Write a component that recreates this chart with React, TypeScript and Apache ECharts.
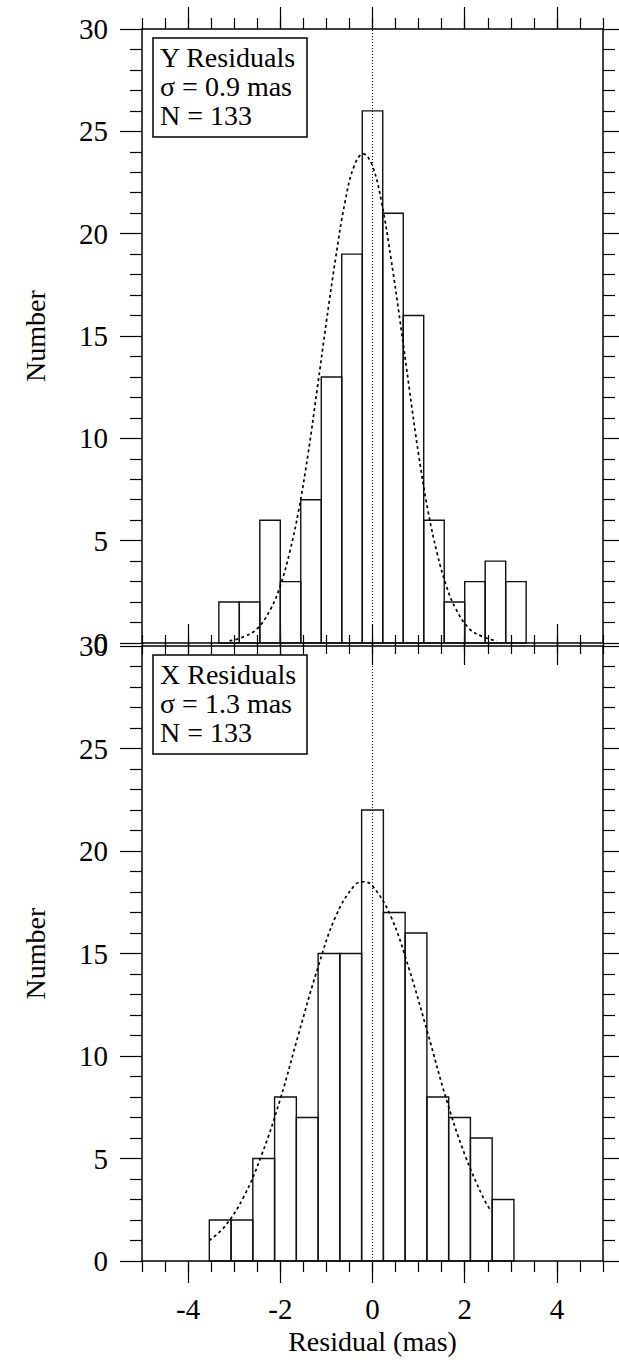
import React, { useEffect, useRef } from "react";
import * as echarts from "echarts";

// ---- Data ----
// Top panel (Y residuals): histogram bin edges and counts
const yBinEdges = [-3.333, -2.889, -2.444, -2.0, -1.556, -1.111, -0.667, -0.222, 0.222, 0.667, 1.111, 1.556, 2.0, 2.444, 2.889, 3.333];
const yCounts = [2, 2, 6, 3, 7, 13, 19, 26, 21, 16, 6, 2, 3, 4, 3];
// Bottom panel (X residuals)
const xBinEdges = [-3.54, -3.068, -2.596, -2.124, -1.652, -1.18, -0.708, -0.236, 0.236, 0.708, 1.18, 1.652, 2.124, 2.596, 3.068];
const xCounts = [2, 2, 5, 8, 7, 15, 15, 22, 17, 16, 8, 7, 6, 3];

// Dotted Gaussian curves
const yFitX = [-3.1, -2.8, -2.5, -2.2, -2.0, -1.8, -1.6, -1.4, -1.2, -1.0, -0.8, -0.6, -0.4, -0.2, 0.0, 0.2, 0.4, 0.6, 0.8, 1.0, 1.2, 1.4, 1.6, 1.8, 2.1, 2.4, 2.7];
const yFitY = [0.1, 0.3, 0.7, 1.7, 2.8, 4.4, 6.5, 9.2, 12.4, 15.7, 18.8, 21.5, 23.3, 23.9, 23.3, 21.5, 18.8, 15.7, 12.4, 9.2, 6.5, 4.4, 2.8, 1.7, 0.7, 0.3, 0.1];
const xFitX = [-3.54, -3.2, -2.8, -2.4, -2.0, -1.6, -1.2, -0.8, -0.4, -0.2, 0.0, 0.4, 0.8, 1.2, 1.6, 2.0, 2.4, 2.58];
const xFitY = [1.0, 1.7, 3.1, 5.2, 7.9, 11.1, 14.2, 16.8, 18.3, 18.5, 18.3, 16.8, 14.2, 11.1, 7.9, 5.2, 3.1, 2.4];

// Axis ticks and labels
const xMajorTicks = [-4, -2, 0, 2, 4];
const xMin = -5;
const xMax = 5;
const xMinorStep = 0.5;
const yMin = 0;
const yMax = 30;
const yStep = 5;
const yMinorSplit = 5;
const zeroLine = 0;

// Texts
const panelTitles = ["Y Residuals", "X Residuals"];
const sigmaLabels = ["σ = 0.9 mas", "σ = 1.3 mas"];
const countLabels = ["N = 133", "N = 133"];
const yAxisName = "Number";
const xAxisName = "Residual (mas)";

const FONT = "'Liberation Serif', 'Times New Roman', serif";

export default function App() {
  const ref = useRef<HTMLDivElement>(null);

  useEffect(() => {
    document.body.style.margin = "0";
    if (!ref.current) return;
    const chart = echarts.init(ref.current, null, { renderer: "svg" });

    const grids = [
      { left: 142, top: 29, width: 461, height: 614 },
      { left: 142, top: 646, width: 461, height: 615 },
    ];

    const lineColor = "#000";
    const xAxes: any[] = [];
    const yAxes: any[] = [];
    const series: any[] = [];
    const graphics: any[] = [];

    const panels = [
      { edges: yBinEdges, counts: yCounts, fx: yFitX, fy: yFitY },
      { edges: xBinEdges, counts: xCounts, fx: xFitX, fy: xFitY },
    ];

    panels.forEach((p, g) => {
      const base = xAxes.length;
      const isBottom = g === 1;
      // bottom minor-tick axis (with labels on lower panel)
      xAxes.push({
        gridIndex: g,
        type: "value",
        position: "bottom",
        min: xMin,
        max: xMax,
        interval: xMinorStep,
        axisLine: { show: true, onZero: false, lineStyle: { color: lineColor, width: 1.5 } },
        axisTick: { show: true, inside: false, length: 11, lineStyle: { color: lineColor, width: 1.2 } },
        axisLabel: {
          show: isBottom,
          customValues: xMajorTicks,
          margin: 33,
          fontSize: 29,
          fontFamily: FONT,
          color: "#000",
          formatter: (v: number) => String(v),
        },
        splitLine: { show: false },
        name: isBottom ? xAxisName : "",
        nameLocation: "middle",
        nameGap: 66,
        nameTextStyle: { fontSize: 28, fontFamily: FONT, color: "#000" },
      });
      // bottom major ticks
      xAxes.push({
        gridIndex: g,
        type: "value",
        position: "bottom",
        min: xMin,
        max: xMax,
        axisLine: { show: false, onZero: false },
        axisTick: { show: true, inside: false, length: 22, customValues: xMajorTicks, lineStyle: { color: lineColor, width: 1.2 } },
        axisLabel: { show: false },
        splitLine: { show: false },
      });
      // top minor ticks
      xAxes.push({
        gridIndex: g,
        type: "value",
        position: "top",
        min: xMin,
        max: xMax,
        interval: xMinorStep,
        axisLine: { show: true, onZero: false, lineStyle: { color: lineColor, width: 1.5 } },
        axisTick: { show: true, inside: false, length: 11, lineStyle: { color: lineColor, width: 1.2 } },
        axisLabel: { show: false },
        splitLine: { show: false },
      });
      // top major ticks
      xAxes.push({
        gridIndex: g,
        type: "value",
        position: "top",
        min: xMin,
        max: xMax,
        axisLine: { show: false, onZero: false },
        axisTick: { show: true, inside: false, length: 22, customValues: xMajorTicks, lineStyle: { color: lineColor, width: 1.2 } },
        axisLabel: { show: false },
        splitLine: { show: false },
      });

      const yBase = yAxes.length;
      yAxes.push({
        gridIndex: g,
        type: "value",
        position: "left",
        min: yMin,
        max: yMax,
        interval: yStep,
        axisLine: { show: true, onZero: false, lineStyle: { color: lineColor, width: 1.5 } },
        axisTick: { show: true, inside: false, length: 22, lineStyle: { color: lineColor, width: 1.2 } },
        minorTick: { show: true, splitNumber: yMinorSplit, length: 12, lineStyle: { color: lineColor, width: 1.2 } },
        axisLabel: { show: true, margin: 34, fontSize: 29, fontFamily: FONT, color: "#000" },
        splitLine: { show: false },
        minorSplitLine: { show: false },
        name: yAxisName,
        nameLocation: "middle",
        nameRotate: 90,
        nameGap: 93,
        nameTextStyle: { fontSize: 28, fontFamily: FONT, color: "#000" },
      });
      yAxes.push({
        gridIndex: g,
        type: "value",
        position: "right",
        min: yMin,
        max: yMax,
        interval: yStep,
        axisLine: { show: true, onZero: false, lineStyle: { color: lineColor, width: 1.5 } },
        axisTick: { show: true, inside: false, length: 22, lineStyle: { color: lineColor, width: 1.2 } },
        minorTick: { show: true, splitNumber: yMinorSplit, length: 12, lineStyle: { color: lineColor, width: 1.2 } },
        axisLabel: { show: false },
        splitLine: { show: false },
        minorSplitLine: { show: false },
      });

      series.push({
        type: "custom",
        xAxisIndex: base,
        yAxisIndex: yBase,
        encode: { x: [0, 1], y: 2 },
        data: p.counts.map((c, i) => [p.edges[i], p.edges[i + 1], c]),
        renderItem: (_params: any, api: any) => {
          const x0 = api.value(0);
          const x1 = api.value(1);
          const v = api.value(2);
          const a = api.coord([x0, v]);
          const b = api.coord([x1, 0]);
          return {
            type: "rect",
            shape: { x: a[0], y: a[1], width: b[0] - a[0], height: b[1] - a[1] },
            style: { fill: "none", stroke: "#111", lineWidth: 1.4 },
          };
        },
        markLine: {
          silent: true,
          symbol: ["none", "none"],
          label: { show: false },
          lineStyle: { type: [1, 2], color: "#000", width: 1 },
          data: [{ xAxis: zeroLine }],
        },
        z: 2,
      });

      series.push({
        type: "line",
        xAxisIndex: base,
        yAxisIndex: yBase,
        data: p.fx.map((x, i) => [x, p.fy[i]]),
        smooth: 0.4,
        symbol: "none",
        lineStyle: { type: [3, 3], width: 1.7, color: "#000" },
        z: 3,
      });

      // annotation box
      const top = grids[g].top + 9;
      graphics.push({
        type: "rect",
        shape: { x: 153, y: top, width: 154, height: 99 },
        style: { fill: "#fff", stroke: "#000", lineWidth: 1.5 },
        z: 10,
      });
      [panelTitles[g], sigmaLabels[g], countLabels[g]].forEach((t, k) => {
        graphics.push({
          type: "text",
          x: 160,
          y: top + 19 + k * 29,
          style: {
            text: t,
            fontSize: 28,
            fontFamily: FONT,
            fill: "#000",
            verticalAlign: "middle",
            align: "left",
          },
          z: 11,
        });
      });
    });

    chart.setOption({
      animation: false,
      backgroundColor: "#fff",
      grid: grids,
      xAxis: xAxes,
      yAxis: yAxes,
      series,
      graphic: graphics,
    });

    return () => chart.dispose();
  }, []);

  return <div ref={ref} style={{ width: 619, height: 1364 }} />;
}
